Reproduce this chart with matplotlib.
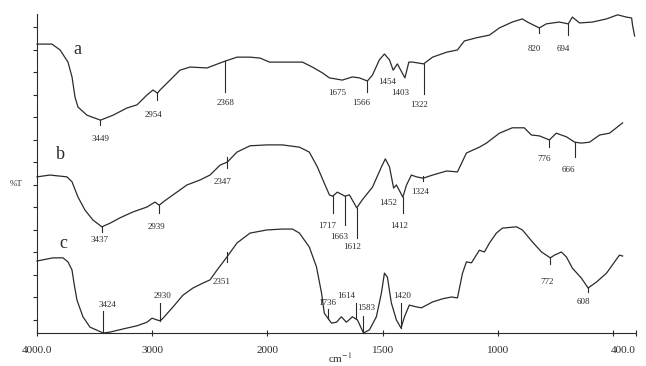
import numpy as np
import matplotlib.pyplot as plt

plt.rcParams['font.family'] = ['Liberation Serif', 'DejaVu Serif']
plt.rcParams['mathtext.fontset'] = 'stix'

# IR spectra: wavenumber (cm-1) and %T, three samples stacked with offsets
wn_a = [4000, 3870, 3800, 3731, 3696, 3670, 3644, 3566, 3449, 3340,
        3219, 3132, 3045, 2993, 2954, 2932, 2845, 2759, 2672, 2524,
        2411, 2368, 2264, 2151, 2064, 1991, 1918, 1848, 1805, 1761,
        1731, 1675, 1631, 1601, 1566, 1544, 1514, 1492, 1470, 1454,
        1436, 1403, 1386, 1369, 1322, 1283, 1222, 1175, 1145, 1093,
        1036, 993, 937, 893, 871, 820, 789, 733, 694, 676,
        645, 589, 528, 480, 441, 419, 415, 406]
t_a = [64.2, 64.2, 62.9, 60.2, 56.9, 52.4, 50.2, 48.4, 47.3, 48.4,
       50.0, 50.7, 52.9, 54.0, 53.3, 54.0, 56.2, 58.4, 59.1, 58.9,
       60.0, 60.4, 61.3, 61.3, 61.1, 60.2, 60.2, 60.2, 59.1, 57.8,
       56.7, 56.2, 56.9, 56.7, 56.0, 57.3, 60.7, 62.0, 60.7, 58.4,
       59.8, 56.7, 60.2, 60.2, 59.8, 61.3, 62.4, 62.9, 64.9, 65.6,
       66.2, 67.8, 69.1, 69.8, 69.1, 67.8, 68.7, 69.1, 68.7, 70.2,
       68.9, 69.1, 69.8, 70.7, 70.2, 70.0, 68.4, 66.0]

wn_b = [4000, 3887, 3740, 3696, 3644, 3583, 3514, 3437, 3366, 3279,
        3167, 3045, 2976, 2939, 2906, 2819, 2698, 2585, 2498, 2411,
        2347, 2264, 2151, 2004, 1935, 1861, 1818, 1783, 1753, 1731,
        1717, 1696, 1663, 1644, 1612, 1588, 1544, 1505, 1488, 1470,
        1452, 1440, 1412, 1396, 1375, 1353, 1324, 1283, 1222, 1175,
        1136, 1080, 1049, 993, 937, 885, 854, 819, 776, 746,
        702, 666, 637, 602, 558, 515, 458]
t_b = [34.7, 35.1, 34.7, 33.6, 30.2, 27.3, 25.1, 23.6, 24.4, 25.6,
       26.9, 28.0, 29.1, 28.4, 29.1, 30.7, 32.9, 34.0, 35.1, 37.3,
       38.0, 40.2, 41.6, 41.8, 41.8, 41.3, 40.2, 36.9, 33.3, 30.7,
       30.4, 31.3, 30.4, 30.7, 27.8, 29.6, 32.4, 36.9, 38.7, 36.9,
       32.2, 32.9, 30.2, 32.9, 35.1, 34.7, 34.4, 35.1, 36.0, 35.8,
       40.0, 41.3, 42.2, 44.4, 45.6, 45.6, 44.0, 43.8, 42.9, 44.4,
       43.6, 42.4, 42.2, 42.4, 44.0, 44.4, 46.7]

wn_c = [4000, 3861, 3774, 3731, 3696, 3679, 3653, 3601, 3540, 3424,
        3366, 3253, 3132, 3045, 3002, 2958, 2930, 2906, 2819, 2733,
        2646, 2559, 2498, 2437, 2351, 2264, 2151, 2004, 1935, 1891,
        1861, 1818, 1787, 1765, 1753, 1722, 1700, 1679, 1657, 1631,
        1609, 1583, 1557, 1527, 1505, 1492, 1479, 1462, 1440, 1420,
        1405, 1384, 1353, 1331, 1283, 1240, 1201, 1175, 1153, 1136,
        1114, 1080, 1058, 1036, 1006, 980, 919, 893, 849, 810,
        772, 754, 724, 702, 676, 637, 608, 572, 528, 493,
        472, 458]
t_c = [16.0, 16.7, 16.7, 15.8, 14.0, 11.1, 7.3, 3.6, 1.3, 0.0,
       0.2, 0.9, 1.6, 2.4, 3.3, 2.9, 2.7, 3.3, 5.8, 8.4,
       10.0, 11.1, 11.8, 14.0, 16.9, 20.0, 22.2, 22.9, 23.1, 23.1,
       22.2, 19.1, 14.7, 8.9, 4.4, 2.2, 2.4, 3.6, 2.4, 3.6,
       2.9, 0.0, 0.7, 3.6, 8.9, 13.3, 12.4, 6.7, 2.9, 1.1,
       3.6, 6.2, 5.8, 5.6, 6.9, 7.6, 8.0, 7.8, 13.3, 15.8,
       15.6, 18.4, 18.0, 20.0, 22.2, 23.3, 23.6, 22.9, 20.2, 18.0,
       16.7, 17.3, 18.0, 16.9, 14.4, 12.2, 10.0, 11.3, 13.3, 15.8,
       17.3, 17.1]

# labelled band positions
peaks_a = [3449, 2954, 2368, 1675, 1566, 1454, 1403, 1322, 820, 694]
peaks_b = [3437, 2939, 2347, 1717, 1663, 1612, 1452, 1412, 1324, 776, 666]
peaks_c = [3424, 2930, 2351, 1736, 1614, 1583, 1420, 772, 608]

xticks = [4000, 3000, 2000, 1500, 1000, 500, 400]
xtick_labels = ['4000.0', '3000', '2000', '1500', '1000', '', '400.0']

# marker layout in pixels: (line top, line bottom, label dx, label dy), up = +
layout_a = [(0, -5, 0, -19), (0, -7, -4, -22), (0, -31, 1, -42), (0, 0, -5, -13),
            (0, -11, -6, -22), (0, 0, -6, -12), (0, 0, -5, -15), (0, -30, -5, -41),
            (0, -5, -5, -21), (0, -11, -5, -25)]
layout_b = [(0, -5, -2, -13), (0, -8, -3, -22), (5, -6, -5, -20), (0, -17, -5, -30),
            (0, -29, -6, -41), (0, -30, -5, -39), (0, 0, -5, -15), (0, -16, -4, -29),
            (2, -3, -3, -14), (0, -7, -5, -19), (0, -15, -6, -28)]
layout_c = [(0, 22, 4, 28), (0, 18, 2, 25), (5, -5, -5, -25), (0, 10, -1, 16),
            (0, 16, -10, 23), (0, 17, 3, 25), (0, 25, 1, 32), (0, -6, -3, -24),
            (0, -4, -5, -14)]

PX = 4.5          # pixels per %T unit
INK = '#2b2b2b'


def fwd(v):
    # region below 2000 cm-1 is drawn at twice the scale
    v = np.asarray(v, dtype=float)
    return np.where(v >= 2000, v, 2 * v - 2000)


def inv(u):
    u = np.asarray(u, dtype=float)
    return np.where(u >= 2000, u, (u + 2000) / 2)


def mark_peaks(ax, wn, t, peaks, layout):
    wn = np.asarray(wn)[::-1]
    t = np.asarray(t)[::-1]
    for v, (top, bot, dx, dy) in zip(peaks, layout):
        y0 = np.interp(v, wn, t)
        if top != bot:
            ax.plot([v, v], [y0 + top / PX, y0 + bot / PX], color=INK, lw=0.8,
                    clip_on=False)
        ax.annotate(str(v), (v, y0), xytext=(dx * 0.72, dy * 0.72),
                    textcoords='offset points', ha='center', va='center',
                    fontsize=6.5, color=INK)


fig = plt.figure(figsize=(6.46, 3.66), dpi=100)
ax = fig.add_axes([37 / 646, 33 / 366, 599 / 646, 319.5 / 366])
ax.set_xscale('function', functions=(fwd, inv))
ax.set_xlim(4000, 400)
ax.set_ylim(0, 71)

for wn, t in [(wn_a, t_a), (wn_b, t_b), (wn_c, t_c)]:
    ax.plot(wn, t, color=INK, lw=0.9, clip_on=False)

mark_peaks(ax, wn_a, t_a, peaks_a, layout_a)
mark_peaks(ax, wn_b, t_b, peaks_b, layout_b)
mark_peaks(ax, wn_c, t_c, peaks_c, layout_c)

ax.text(3653, 62.9, 'a', fontsize=13, ha='center', va='center', color=INK)
ax.text(3800, 39.6, 'b', fontsize=13, ha='center', va='center', color=INK)
ax.text(3774, 20.0, 'c', fontsize=13, ha='center', va='center', color=INK)

ax.set_xticks(xticks)
ax.set_xticklabels(xtick_labels)
ax.xaxis.set_minor_locator(plt.NullLocator())
ax.set_yticks(np.arange(3, 70, 5))
ax.set_yticklabels([])
ax.tick_params(axis='x', direction='inout', length=5, width=0.8, pad=7,
               labelsize=8, colors=INK)
ax.tick_params(axis='y', direction='out', length=3, width=0.8, colors=INK)
# keep the last tick label inside the canvas
for lbl in ax.get_xticklabels():
    if lbl.get_text() == '400.0':
        lbl.set_horizontalalignment('right')
for side in ['top', 'right']:
    ax.spines[side].set_visible(False)
for side in ['left', 'bottom']:
    ax.spines[side].set_color(INK)
    ax.spines[side].set_linewidth(0.8)

fig.text(16 / 646, 1 - 184 / 366, '%T', fontsize=6.5, ha='center',
         va='center', color=INK)
fig.text(340 / 646, 1 / 366, 'cm$^{-1}$', fontsize=8, ha='center',
         va='bottom', color=INK)

fig.savefig('out.png', dpi=100)
